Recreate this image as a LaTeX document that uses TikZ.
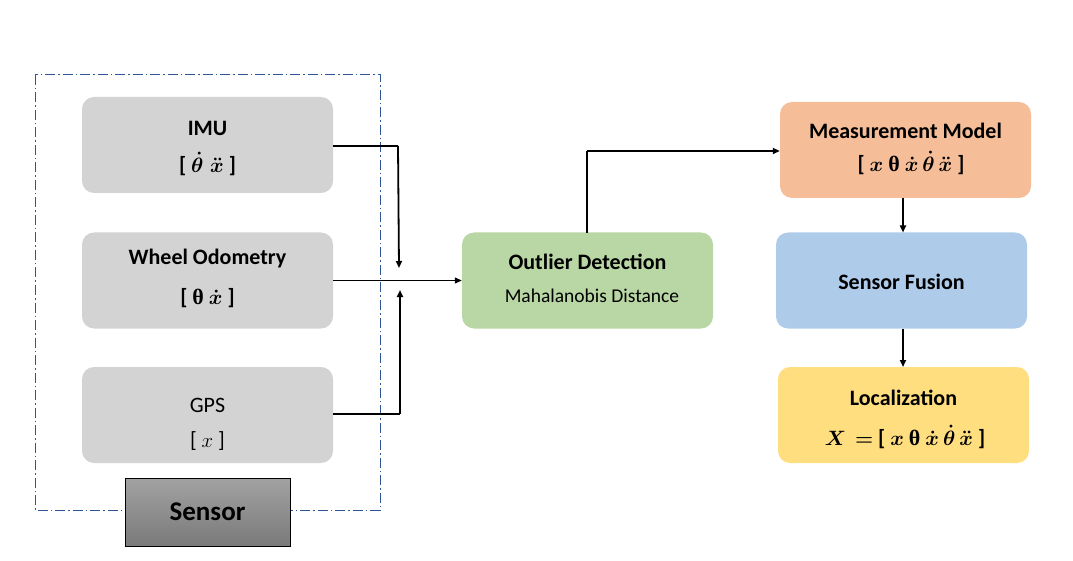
\documentclass[tikz,border=0pt]{standalone}
\usepackage{fontspec}
\setmainfont{Carlito}
\newfontfamily\serifgr{Liberation Serif}
\usepackage{amsmath,bm}
\usetikzlibrary{arrows.meta}
\definecolor{boxgray}{RGB}{211,211,211}
\definecolor{odgreen}{RGB}{185,215,164}
\definecolor{mmorange}{RGB}{245,190,152}
\definecolor{sfblue}{RGB}{175,203,234}
\definecolor{locyellow}{RGB}{255,222,128}
\definecolor{dashblue}{RGB}{47,85,151}
\newcommand{\upth}{{\serifgr\bfseries θ}}
\tikzset{
  block/.style={rounded corners=12pt, draw=none, minimum width=251pt, minimum height=96pt, inner sep=0pt},
  title/.style={font=\fontsize{22}{26}\selectfont\bfseries, inner sep=0pt},
  sub/.style={font=\fontsize{19.5}{23}\selectfont, inner sep=0pt},
  mathlbl/.style={font=\fontsize{22}{26}\selectfont\bfseries\boldmath, inner sep=0pt},
  thickline/.style={line width=2.8pt},
  medline/.style={line width=1.8pt},
  thinline/.style={line width=1.2pt},
  tip/.style={-{Triangle[length=7pt,width=6pt]}}
}
\begin{document}
\begin{tikzpicture}[x=1pt,y=-1pt]
\useasboundingbox (0,0) rectangle (1073,561);
% dashed sensor group
\draw[dashblue, line width=1pt, dash pattern=on 10pt off 3pt on 1.5pt off 3pt] (35,75) rectangle (380,510);
% left blocks
\node[block, fill=boxgray] (imu) at (207.5,145) {};
\node[title] (imut) at (207.5,128) {IMU};
\node[mathlbl] (imum) at (207.5,164) {[ $\dot{\theta}\;\ddot{x}$ ]};
\node[block, fill=boxgray] (wo) at (207.5,280.5) {};
\node[title] (wot) at (207.5,259) {Wheel Odometry};
\node[mathlbl] (wom) at (207.5,298) {[ \upth\ $\dot{x}$ ]};
\node[block, fill=boxgray] (gps) at (207.5,415) {};
\node[title, font=\fontsize{22}{26}\selectfont] (gpst) at (207.5,405) {GPS};
\node[mathlbl, font=\fontsize{22}{26}\selectfont] (gpsm) at (207.5,441) {[ $x$ ]};
% sensor label box
\node[draw=black, line width=0.8pt, minimum width=165pt, minimum height=68pt, inner sep=0pt,
  top color={rgb,255:red,162;green,162;blue,162}, bottom color={rgb,255:red,122;green,122;blue,122},
  font=\fontsize{27}{32}\selectfont\bfseries] (sensor) at (207.5,512) {Sensor};
% outlier detection
\node[block, fill=odgreen] (od) at (587.5,280.5) {};
\node[title] (odt) at (587.5,262) {Outlier Detection};
\node[sub] (ods) at (592,296) {Mahalanobis Distance};
% right column
\node[block, fill=mmorange] (mm) at (905.5,150) {};
\node[title] (mmt) at (905.5,131) {Measurement Model};
\node[mathlbl] (mmm) at (911,163) {[ $x$ \upth{} $\dot{x}\,\dot{\theta}\,\ddot{x}$ ]};
\node[block, fill=sfblue] (sf) at (901.5,280.5) {};
\node[title] (sft) at (901.5,282) {Sensor Fusion};
\node[block, fill=locyellow] (loc) at (903.5,415) {};
\node[title] (loct) at (903.5,398) {Localization};
\node[mathlbl] (locm) at (905,437) {$X$\hspace{9pt}$=$ [ $x$ \upth{} $\dot{x}\,\dot{\theta}\,\ddot{x}$ ]};
% connectors
\coordinate (jtop) at (399,268);
\coordinate (jbot) at (400,290);
\draw[thickline] (imu.east |- 0,146) -- (398,146);
\draw[medline, tip] (398,146) -- (jtop);
\draw[thickline] (gps.east |- 0,414) -- (400,414);
\draw[medline, tip] (400,414) -- (jbot);
\draw[thinline, tip] (wo.east) -- (od.west);
\draw[thickline] (587,233) -- (587,151);
\draw[medline, tip] (587,151) -- (mm.west |- 0,151);
\draw[medline, tip] (903,198) -- (903,232.5);
\draw[medline, tip] (903,328.5) -- (903,367);
\end{tikzpicture}
\end{document}
